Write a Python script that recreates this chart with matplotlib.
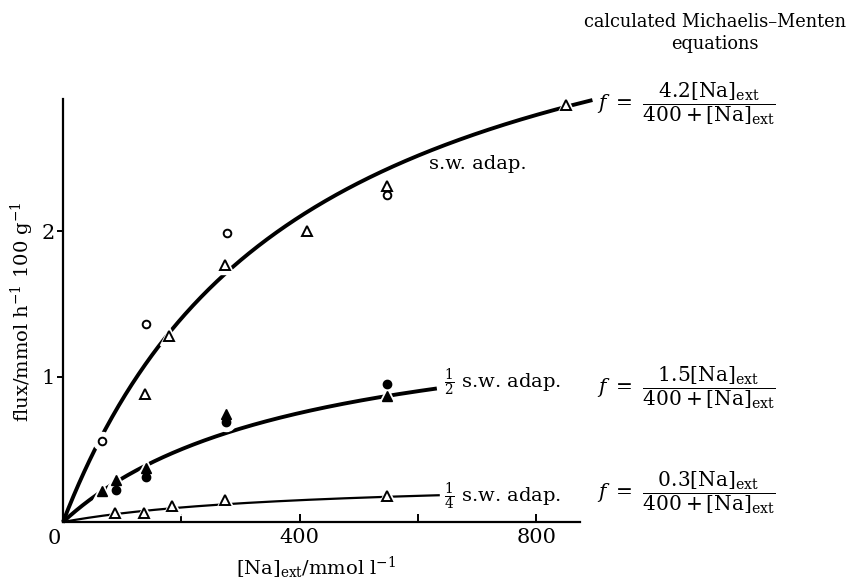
import numpy as np
import matplotlib.pyplot as plt

plt.rcParams['font.family'] = 'DejaVu Serif'
plt.rcParams['mathtext.fontset'] = 'dejavuserif'

# sea-water adapted (open symbols)
sw_circ_x = [66, 140, 277, 547]
sw_circ_y = [0.56, 1.36, 1.99, 2.25]
sw_tri_x = [138, 179, 274, 412, 547, 851]
sw_tri_y = [0.88, 1.28, 1.77, 2.00, 2.31, 2.87]

# half sea-water adapted (filled symbols)
half_circ_x = [90, 140, 275, 547]
half_circ_y = [0.22, 0.31, 0.69, 0.95]
half_tri_x = [66, 90, 140, 275, 547]
half_tri_y = [0.21, 0.29, 0.37, 0.74, 0.87]

# quarter sea-water adapted (open triangles)
qtr_tri_x = [88, 137, 185, 274, 547]
qtr_tri_y = [0.065, 0.065, 0.11, 0.15, 0.18]

# calculated Michaelis-Menten curves f = vmax*[Na]/(km+[Na])
km = 400
vmax = [4.2, 1.5, 0.3]
curve_end = [895, 632, 637]
curve_lw = [2.8, 2.8, 1.6]
curve_labels = ['s.w. adap.', r'$\frac{1}{2}$ s.w. adap.', r'$\frac{1}{4}$ s.w. adap.']
label_pos = [(618, 2.46), (644, 0.955), (644, 0.17)]
eq_y_px = [104, 388, 493]

W, H = 863, 585
fig = plt.figure(figsize=(W / 100, H / 100), dpi=100)
ax = fig.add_axes([63 / W, 63 / H, 517 / W, 423 / H])

for v, end, lw in zip(vmax, curve_end, curve_lw):
    x = np.linspace(0, end, 400)
    ax.plot(x, v * x / (km + x), color='black', lw=lw, solid_capstyle='butt',
            zorder=2, clip_on=False)

# white halos so the lines break around the points
for xs, ys, m in [(sw_circ_x, sw_circ_y, 'o'), (sw_tri_x, sw_tri_y, '^'),
                  (half_circ_x, half_circ_y, 'o'), (half_tri_x, half_tri_y, '^'),
                  (qtr_tri_x, qtr_tri_y, '^')]:
    ax.plot(xs, ys, m, ms=13, color='white', mec='white', ls='none', zorder=3,
            clip_on=False)

ax.plot(sw_circ_x, sw_circ_y, 'o', ms=5.5, mfc='white', mec='black', mew=1.4,
        ls='none', zorder=4, clip_on=False)
ax.plot(sw_tri_x, sw_tri_y, '^', ms=6.5, mfc='white', mec='black', mew=1.4,
        ls='none', zorder=4, clip_on=False)
ax.plot(half_circ_x, half_circ_y, 'o', ms=6, color='black', ls='none', zorder=4)
ax.plot(half_tri_x, half_tri_y, '^', ms=7, color='black', ls='none', zorder=4)
ax.plot(qtr_tri_x, qtr_tri_y, '^', ms=6.5, mfc='white', mec='black', mew=1.4,
        ls='none', zorder=4)

for lab, (lx, ly) in zip(curve_labels, label_pos):
    ax.text(lx, ly, lab, fontsize=14, ha='left', va='center')

ax.set_xlim(0, 874)
ax.set_ylim(0, 2.91)
for s in ['top', 'right']:
    ax.spines[s].set_visible(False)
for s in ['left', 'bottom']:
    ax.spines[s].set_linewidth(1.6)
    ax.spines[s].set_zorder(6)

ax.set_xticks([200, 400, 600, 800])
ax.set_xticklabels(['', '400', '', '800'])
ax.tick_params(axis='x', direction='in', length=6, width=1.4, labelsize=15, pad=4)
ax.set_yticks([1, 2])
ax.tick_params(axis='y', direction='out', length=4, width=1.4, labelsize=15, pad=2)
ax.annotate('0', xy=(0, 0), xytext=(-6, -5), textcoords='offset points',
            fontsize=15, ha='center', va='top', annotation_clip=False)

fig.text(316 / W, 1 - 568 / H, r'$[\mathrm{Na}]_{\mathrm{ext}}/\mathrm{mmol\ l}^{-1}$',
         fontsize=14, ha='center', va='center')
fig.text(22 / W, 1 - 312 / H, r'flux/mmol h$^{-1}$ 100 g$^{-1}$',
         fontsize=14, rotation=90, ha='center', va='center')

fig.text(715 / W, 1 - 33 / H, 'calculated Michaelis\u2013Menten\nequations',
         fontsize=12.8, ha='center', va='center', linespacing=1.35)

for v, ey in zip(vmax, eq_y_px):
    eq = (r'$f\ =\ \dfrac{%.1f[\mathrm{Na}]_{\mathrm{ext}}}'
          r'{400+[\mathrm{Na}]_{\mathrm{ext}}}$' % v)
    fig.text(597 / W, 1 - ey / H, eq, fontsize=14.5, ha='left', va='center')

fig.savefig('out.png', dpi=100)
